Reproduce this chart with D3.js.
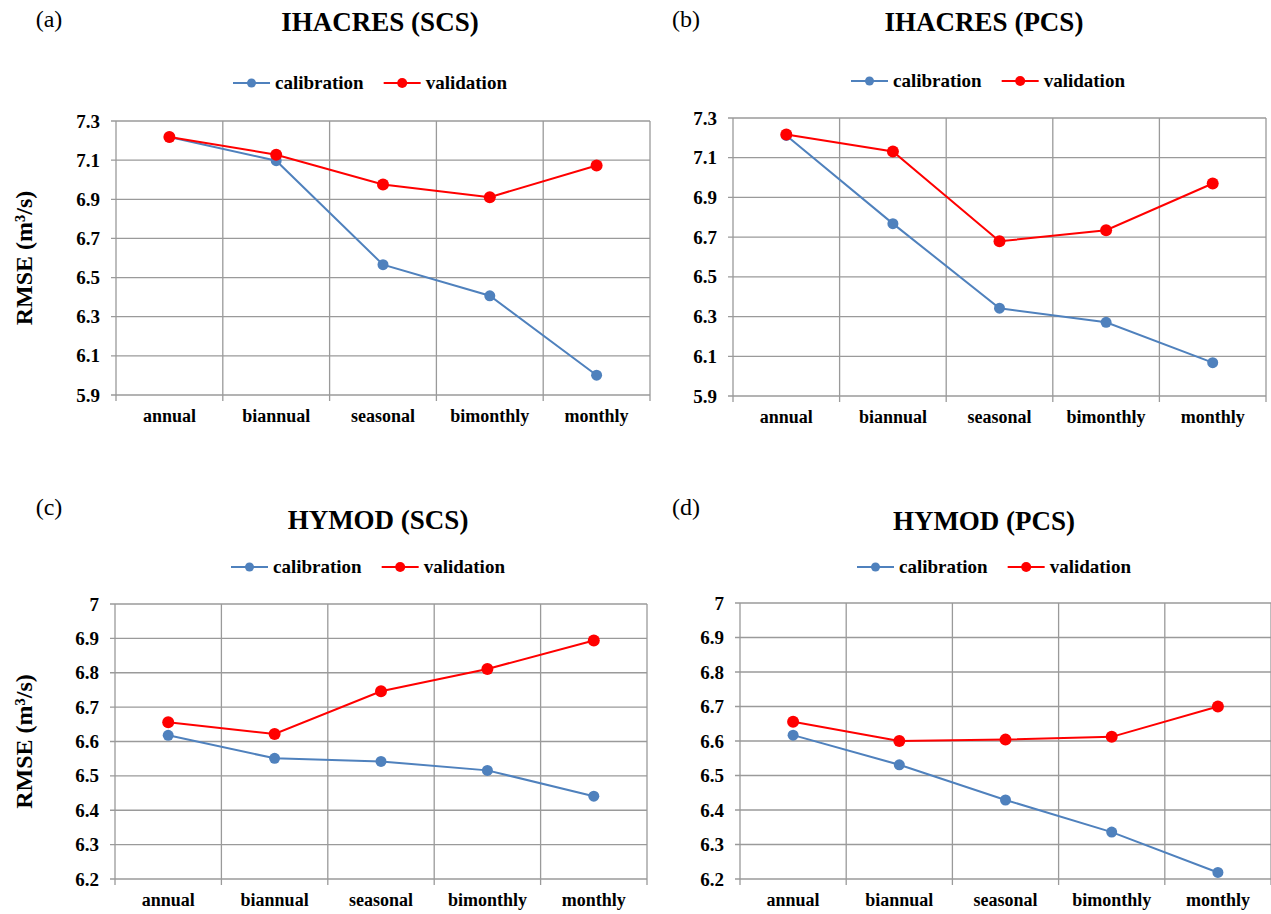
<!DOCTYPE html>
<html>
<head>
<meta charset="utf-8">
<script src="https://cdn.jsdelivr.net/npm/d3@7"></script>
<style>
  body { margin: 0; background: #fff; }
  svg text { font-family: "Liberation Serif", "Times New Roman", Times, serif; fill: #000; }
</style>
</head>
<body>
<div class="visHolder"></div>
<script>
// categories
const periods = ["annual", "biannual", "seasonal", "bimonthly", "monthly"];
const seriesNames = ["calibration", "validation"];

// RMSE values
const ihacresScsCal = [7.218, 7.097, 6.566, 6.407, 6.001];
const ihacresScsVal = [7.218, 7.128, 6.976, 6.911, 7.073];
const ihacresPcsCal = [7.212, 6.768, 6.342, 6.271, 6.068];
const ihacresPcsVal = [7.217, 7.131, 6.679, 6.735, 6.970];
const hymodScsCal = [6.618, 6.551, 6.542, 6.516, 6.441];
const hymodScsVal = [6.656, 6.622, 6.746, 6.811, 6.894];
const hymodPcsCal = [6.617, 6.531, 6.429, 6.336, 6.219];
const hymodPcsVal = [6.656, 6.600, 6.604, 6.612, 6.700];

// tick values
const ihacresTicks = [5.9, 6.1, 6.3, 6.5, 6.7, 6.9, 7.1, 7.3];
const hymodTicks = [6.2, 6.3, 6.4, 6.5, 6.6, 6.7, 6.8, 6.9, 7];

const calColor = "#4f81bd";
const valColor = "#ff0000";
const gridColor = "#9a9a9a";
const serif = "'Liberation Serif', 'Times New Roman', Times, serif";

let panels = [
  { tag: "(a)", title: "IHACRES (SCS)", cal: ihacresScsCal, val: ihacresScsVal, ticks: ihacresTicks,
    left: 116, right: 650, top: 121, bottom: 395, tagX: 49, tagY: 27, titleX: 380, titleY: 31,
    legendX: 233, legendY: 83, yTitle: true },
  { tag: "(b)", title: "IHACRES (PCS)", cal: ihacresPcsCal, val: ihacresPcsVal, ticks: ihacresTicks,
    left: 733, right: 1266, top: 118, bottom: 396, tagX: 686, tagY: 27, titleX: 984, titleY: 31,
    legendX: 851, legendY: 81, yTitle: false },
  { tag: "(c)", title: "HYMOD (SCS)", cal: hymodScsCal, val: hymodScsVal, ticks: hymodTicks,
    left: 115, right: 647, top: 604, bottom: 879, tagX: 49, tagY: 515, titleX: 378, titleY: 529,
    legendX: 231, legendY: 567, yTitle: true },
  { tag: "(d)", title: "HYMOD (PCS)", cal: hymodPcsCal, val: hymodPcsVal, ticks: hymodTicks,
    left: 740, right: 1271, top: 603, bottom: 879, tagX: 686, tagY: 515, titleX: 984, titleY: 530,
    legendX: 857, legendY: 567, yTitle: false }
];

let svg = d3
  .select(".visHolder")
  .append("svg")
  .attr("width", 1271)
  .attr("height", 914);

svg.append("rect").attr("width", 1271).attr("height", 914).attr("fill", "#fff");

panels.forEach(function (p) {
  let g = svg.append("g").attr("font-family", serif);

  let xScale = d3.scaleBand().domain(periods).range([p.left, p.right]).padding(0);
  let yScale = d3
    .scaleLinear()
    .domain([d3.min(p.ticks), d3.max(p.ticks)])
    .range([p.bottom, p.top]);

  // horizontal grid
  g.append("g")
    .selectAll("line")
    .data(p.ticks)
    .enter()
    .append("line")
    .attr("x1", p.left - 5)
    .attr("x2", p.right)
    .attr("y1", (d) => yScale(d))
    .attr("y2", (d) => yScale(d))
    .attr("stroke", gridColor)
    .attr("stroke-width", 1.3);

  // vertical grid at band edges, poking below the axis
  let edges = periods.map((d) => xScale(d)).concat([p.right]);
  g.append("g")
    .selectAll("line")
    .data(edges)
    .enter()
    .append("line")
    .attr("x1", (d) => d)
    .attr("x2", (d) => d)
    .attr("y1", p.top)
    .attr("y2", p.bottom + 6)
    .attr("stroke", gridColor)
    .attr("stroke-width", 1.3);

  // y axis labels
  let yAxis = d3
    .axisLeft(yScale)
    .tickValues(p.ticks)
    .tickSize(0)
    .tickPadding(16)
    .tickFormat((d) => String(+d.toFixed(1)));
  let ya = g.append("g").attr("transform", "translate(" + p.left + ",0)").call(yAxis);
  ya.attr("font-family", serif).attr("font-size", 19).attr("font-weight", "bold");
  ya.select(".domain").remove();

  // x axis labels
  let xAxis = d3.axisBottom(xScale).tickSize(0).tickPadding(14);
  let xa = g.append("g").attr("transform", "translate(0," + p.bottom + ")").call(xAxis);
  xa.attr("font-family", serif).attr("font-size", 18).attr("font-weight", "bold");
  xa.select(".domain").remove();

  // lines + markers
  let line = d3
    .line()
    .x((d, i) => xScale(periods[i]) + xScale.bandwidth() / 2)
    .y((d) => yScale(d));

  [
    { values: p.cal, color: calColor, r: 5.5 },
    { values: p.val, color: valColor, r: 6 }
  ].forEach(function (s) {
    g.append("path")
      .datum(s.values)
      .attr("d", line)
      .attr("fill", "none")
      .attr("stroke", s.color)
      .attr("stroke-width", 2);
    g.append("g")
      .selectAll("circle")
      .data(s.values)
      .enter()
      .append("circle")
      .attr("cx", (d, i) => xScale(periods[i]) + xScale.bandwidth() / 2)
      .attr("cy", (d) => yScale(d))
      .attr("r", s.r)
      .attr("fill", s.color);
  });

  // panel tag and title
  g.append("text")
    .attr("x", p.tagX)
    .attr("y", p.tagY)
    .attr("text-anchor", "middle")
    .style("font-size", "24px")
    .text(p.tag);

  g.append("text")
    .attr("x", p.titleX)
    .attr("y", p.titleY)
    .attr("text-anchor", "middle")
    .style("font-size", "27px")
    .style("font-weight", "bold")
    .text(p.title);

  // legend
  let lx = p.legendX;
  seriesNames.forEach(function (name, i) {
    let color = i === 0 ? calColor : valColor;
    g.append("line")
      .attr("x1", lx)
      .attr("x2", lx + 37)
      .attr("y1", p.legendY)
      .attr("y2", p.legendY)
      .attr("stroke", color)
      .attr("stroke-width", 2);
    g.append("circle")
      .attr("cx", lx + 18.5)
      .attr("cy", p.legendY)
      .attr("r", i === 0 ? 4.5 : 5)
      .attr("fill", color);
    let t = g
      .append("text")
      .attr("x", lx + 42)
      .attr("y", p.legendY + 6)
      .style("font-size", "19px")
      .style("font-weight", "bold")
      .text(name);
    lx = lx + 42 + t.node().getComputedTextLength() + 20;
  });

  // y title
  if (p.yTitle) {
    g.append("text")
      .attr("transform", "translate(32," + (p.top + p.bottom) / 2 + ") rotate(-90)")
      .attr("text-anchor", "middle")
      .style("font-size", "24px")
      .style("font-weight", "bold")
      .text("RMSE (m³/s)");
  }
});
</script>
</body>
</html>
